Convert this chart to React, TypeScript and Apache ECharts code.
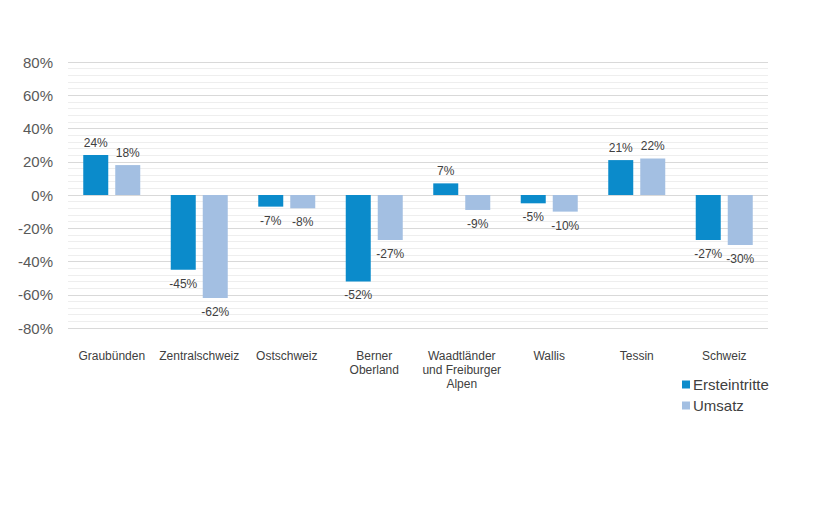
import React, { useEffect, useRef } from "react";
import * as echarts from "echarts";

const categories = [
  "Graubünden",
  "Zentralschweiz",
  "Ostschweiz",
  "Berner\nOberland",
  "Waadtländer\nund Freiburger\nAlpen",
  "Wallis",
  "Tessin",
  "Schweiz",
];
const ersteintritte = [24, -45, -7, -52, 7, -5, 21, -27];
const umsatz = [18, -62, -8, -27, -9, -10, 22, -30];
const seriesNames = ["Ersteintritte", "Umsatz"];
const colors = ["#0b8bcb", "#a3bfe2"];
const FONT = "Liberation Sans";

export default function App() {
  const ref = useRef<HTMLDivElement>(null);
  useEffect(() => {
    const chart = echarts.init(ref.current!, undefined, { renderer: "svg" });
    const labelOpt = {
      show: true,
      fontSize: 12,
      color: "#404040",
      fontFamily: FONT,
      formatter: (p: any) => p.value + "%",
      position: "top" as any,
      distance: 6,
    };
    const mkData = (arr: number[]) =>
      arr.map((v) => ({
        value: v,
        label: { position: v >= 0 ? "top" : "bottom", distance: v >= 0 ? 6 : 8 },
      }));
    chart.setOption({
      animation: false,
      textStyle: { fontFamily: FONT },
      grid: { left: 68, right: 52, top: 62, bottom: 185, containLabel: false },
      legend: {
        orient: "vertical",
        left: 682,
        top: 377,
        padding: 0,
        itemWidth: 8,
        itemHeight: 8,
        itemGap: 6,
        icon: "rect",
        textStyle: { fontSize: 15, color: "#404040", fontFamily: FONT, padding: [0, 0, 0, -2] },
        data: seriesNames,
      },
      xAxis: {
        type: "category",
        data: categories,
        axisLine: { show: false },
        axisTick: { show: false },
        axisLabel: {
          interval: 0,
          margin: 21,
          fontSize: 12,
          lineHeight: 14,
          color: "#404040",
          fontFamily: FONT,
          verticalAlign: "top",
        },
      },
      yAxis: {
        type: "value",
        min: -80,
        max: 80,
        interval: 20,
        axisLine: { show: false },
        axisTick: { show: false },
        axisLabel: {
          fontSize: 15,
          color: "#595959",
          fontFamily: FONT,
          margin: 15,
          formatter: (v: number) => v + "%",
        },
        splitLine: { show: true, lineStyle: { color: "#d9d9d9", width: 1.2 } },
        minorTick: { show: false, splitNumber: 5 },
        minorSplitLine: { show: true, lineStyle: { color: "#eeeeee", width: 1 } },
      },
      series: [
        {
          name: seriesNames[0],
          type: "bar",
          data: mkData(ersteintritte),
          barWidth: 25,
          barGap: "28%",
          itemStyle: { color: colors[0] },
          label: labelOpt,
        },
        {
          name: seriesNames[1],
          type: "bar",
          data: mkData(umsatz),
          barWidth: 25,
          itemStyle: { color: colors[1] },
          label: labelOpt,
        },
      ],
    });
    return () => chart.dispose();
  }, []);
  return (
    <div
      ref={ref}
      style={{ position: "fixed", left: 0, top: 0, width: 820, height: 513, background: "#fff" }}
    />
  );
}
